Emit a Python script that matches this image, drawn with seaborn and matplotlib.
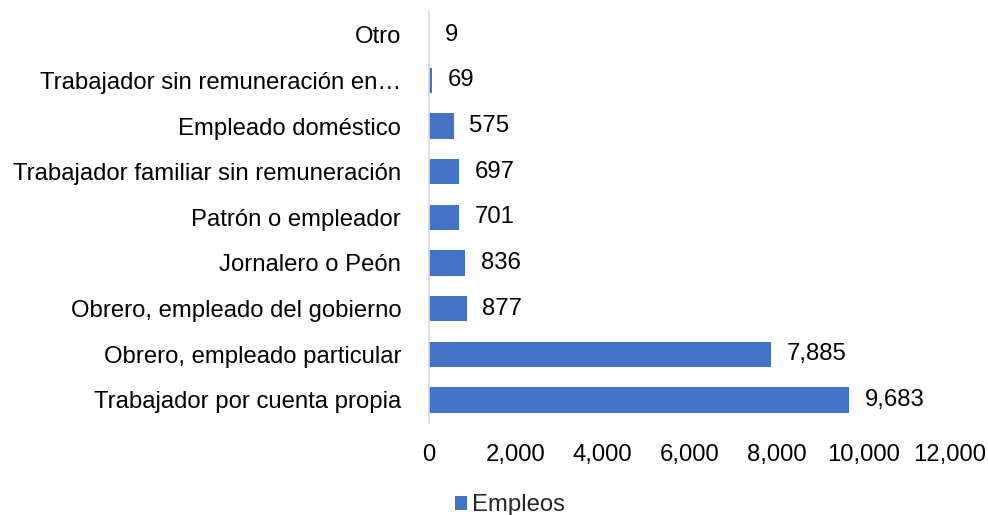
import matplotlib
matplotlib.use("Agg")
import matplotlib.pyplot as plt
import pandas as pd
import seaborn as sns
from matplotlib.ticker import FuncFormatter

# datos
categorias = [
    "Otro",
    "Trabajador sin remuneración en…",
    "Empleado doméstico",
    "Trabajador familiar sin remuneración",
    "Patrón o empleador",
    "Jornalero o Peón",
    "Obrero, empleado del gobierno",
    "Obrero, empleado particular",
    "Trabajador por cuenta propia",
]
empleos = [9, 69, 575, 697, 701, 836, 877, 7885, 9683]
serie = "Empleos"

df = pd.DataFrame({"categoria": categorias, "valor": empleos, "serie": serie})

sns.set_style("white")
plt.rcParams['font.family'] = ['Liberation Sans', 'DejaVu Sans']

fs = 17.2
fig = plt.figure(figsize=(9.88, 5.15), dpi=100)
ax = fig.add_axes([429 / 988, 0.179, 521 / 988, 0.798])

sns.barplot(data=df, x="valor", y="categoria", hue="serie", orient="h",
            palette=["#4472C4"], saturation=1, width=0.55, linewidth=0, ax=ax)

ax.set_xlim(0, 12000)
ax.set_xticks(range(0, 12001, 2000))
ax.xaxis.set_major_formatter(FuncFormatter(lambda v, p: f"{int(v):,}"))
ax.set_xlabel("")
ax.set_ylabel("")
ax.tick_params(axis="both", length=0, labelsize=fs, colors="black")
ax.tick_params(axis="y", pad=20)
ax.tick_params(axis="x", pad=15)

for s in ["top", "right", "bottom"]:
    ax.spines[s].set_visible(False)
ax.spines["left"].set_color("#d9d9d9")
ax.spines["left"].set_linewidth(1.2)

# etiquetas de valores
for cont in ax.containers:
    ax.bar_label(cont, labels=[f"{v:,}" for v in empleos], padding=11,
                 fontsize=fs, color="black")

sns.move_legend(ax, "lower center", bbox_to_anchor=(0.155, -0.268), frameon=False,
                title=None, fontsize=fs, handlelength=0.5, handleheight=0.5,
                handletextpad=0.2, borderpad=0.2)

fig.savefig("out.png", dpi=100)
